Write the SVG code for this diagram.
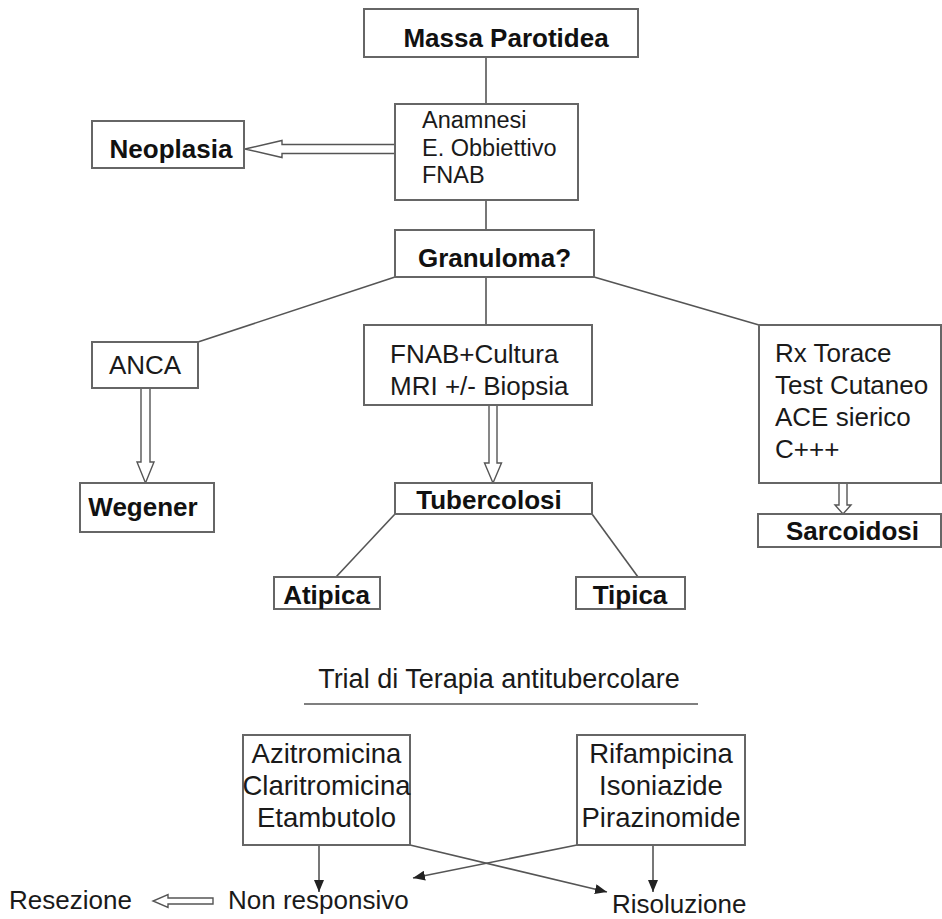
<svg xmlns="http://www.w3.org/2000/svg" width="942" height="919" viewBox="0 0 942 919">
<defs>
<style>
.box{fill:#fff;stroke:#666;stroke-width:2}
.ln{fill:none;stroke:#555;stroke-width:1.6}
.ha{fill:#fff;stroke:#555;stroke-width:1.4}
.t{font-family:"Liberation Sans",Arial,sans-serif;font-size:26px;fill:#1a1a1a}
.b{font-weight:bold;fill:#111}
.m{text-anchor:middle}
.s{font-size:23.5px}
.l{font-size:27.5px}
</style>
<marker id="ah" markerWidth="12" markerHeight="10" refX="12" refY="5" orient="auto" markerUnits="userSpaceOnUse">
<path d="M0,0 L12,5 L0,10 z" fill="#222"/>
</marker>
</defs>
<rect width="942" height="919" fill="#fff"/>

<g id="connectors">
<line class="ln" x1="486" y1="57" x2="486" y2="104"/>
<line class="ln" x1="486" y1="200" x2="486" y2="230"/>
<line class="ln" x1="486" y1="277" x2="486" y2="325"/>
<line class="ln" x1="395" y1="277" x2="198" y2="342"/>
<line class="ln" x1="594" y1="277" x2="759" y2="325"/>
<line class="ln" x1="395" y1="514" x2="336" y2="577"/>
<line class="ln" x1="592" y1="514" x2="638" y2="577"/>
<polygon class="ha" points="395,144.5 282,144.5 282,140.5 245,149 282,157.5 282,153.5 395,153.5"/>
<polygon class="ha" points="141,388 141,462 137,462 145.5,483 154,462 150,462 150,388"/>
<polygon class="ha" points="489,405 489,463 484.5,463 493,483 501.5,463 497,463 497,405"/>
<polygon class="ha" points="839,483 839,505 835,505 843,514 851,505 847,505 847,483"/>
<polygon class="ha" points="213,898 168,898 168,894.5 153,901 168,907.5 168,904 213,904"/>
<line class="ln" x1="304" y1="704" x2="698" y2="704"/>
<line class="ln" x1="319" y1="845" x2="319" y2="892" marker-end="url(#ah)"/>
<line class="ln" x1="653" y1="845" x2="653" y2="892" marker-end="url(#ah)"/>
<line class="ln" x1="410" y1="845" x2="607" y2="892" marker-end="url(#ah)"/>
<line class="ln" x1="577" y1="845" x2="413" y2="878" marker-end="url(#ah)"/>
</g>

<g id="massa"><rect class="box" x="364" y="9" width="274" height="48"/><text class="t b m" x="506" y="47">Massa Parotidea</text></g>
<g id="anamnesi"><rect class="box" x="395" y="104" width="183" height="96"/>
<text class="t s" x="422" y="128">Anamnesi</text><text class="t s" x="422" y="156">E. Obbiettivo</text><text class="t s" x="422" y="183">FNAB</text></g>
<g id="neoplasia"><rect class="box" x="92" y="121" width="152" height="47"/><text class="t b m" x="171" y="158">Neoplasia</text></g>
<g id="granuloma"><rect class="box" x="395" y="230" width="199" height="47"/><text class="t b m" x="494.5" y="267">Granuloma?</text></g>
<g id="anca"><rect class="box" x="92" y="342" width="106" height="46"/><text class="t m" x="145" y="374">ANCA</text></g>
<g id="fnab"><rect class="box" x="364" y="325" width="228" height="80"/>
<text class="t" x="390" y="363">FNAB+Cultura</text><text class="t" x="390" y="395">MRI +/- Biopsia</text></g>
<g id="rx"><rect class="box" x="759" y="325" width="182" height="158"/>
<text class="t" x="775" y="362">Rx Torace</text><text class="t" x="775" y="394">Test Cutaneo</text><text class="t" x="775" y="426">ACE sierico</text><text class="t" x="775" y="458">C+++</text></g>
<g id="wegener"><rect class="box" x="80" y="483" width="134" height="49"/><text class="t b m" x="143" y="516">Wegener</text></g>
<g id="tubercolosi"><rect class="box" x="395" y="483" width="197" height="31"/><text class="t b m" x="489" y="509">Tubercolosi</text></g>
<g id="sarcoidosi"><rect class="box" x="758" y="514" width="183" height="33"/><text class="t b m" x="852.5" y="540">Sarcoidosi</text></g>
<g id="atipica"><rect class="box" x="274" y="577" width="106" height="32"/><text class="t b m" x="326.5" y="604">Atipica</text></g>
<g id="tipica"><rect class="box" x="576" y="577" width="109" height="32"/><text class="t b m" x="630" y="604">Tipica</text></g>
<g id="trial"><text class="t m" x="499" y="688" style="font-size:27px">Trial di Terapia antitubercolare</text></g>
<g id="azitro"><rect class="box" x="243" y="735" width="167" height="110"/>
<text class="t l m" x="326.5" y="763">Azitromicina</text><text class="t l m" x="326.5" y="795">Claritromicina</text><text class="t l m" x="326.5" y="827">Etambutolo</text></g>
<g id="rifa"><rect class="box" x="577" y="735" width="168" height="110"/>
<text class="t l m" x="661" y="763">Rifampicina</text><text class="t l m" x="661" y="795">Isoniazide</text><text class="t l m" x="661" y="827">Pirazinomide</text></g>
<g id="resezione"><text class="t" x="9" y="909">Resezione</text></g>
<g id="nonresp"><text class="t" x="228" y="909">Non responsivo</text></g>
<g id="risoluzione"><text class="t" x="612" y="913">Risoluzione</text></g>
</svg>
